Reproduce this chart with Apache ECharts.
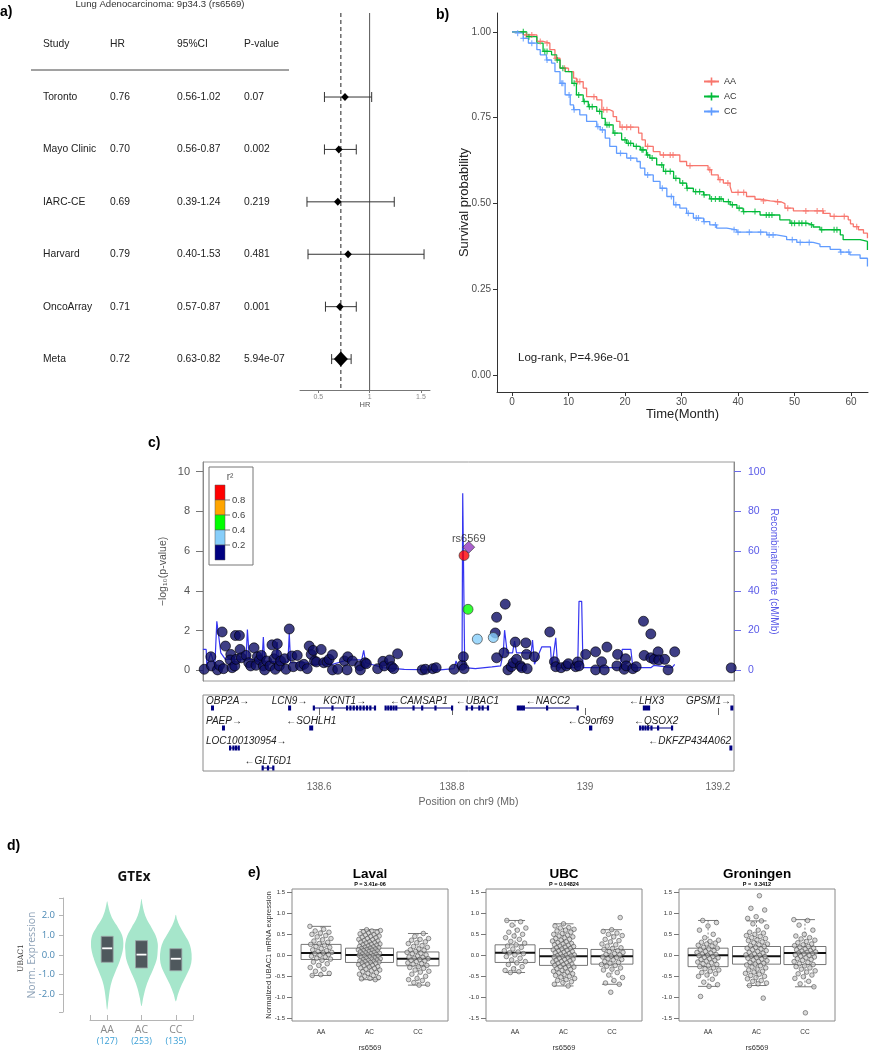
<!DOCTYPE html>
<html>
<head>
<meta charset="utf-8">
<script src="https://cdn.jsdelivr.net/npm/echarts@6.0.0/dist/echarts.min.js"></script>
<style>
html,body{margin:0;padding:0;background:#fff;}
#chart{width:872px;height:1050px;}
</style>
</head>
<body>
<div id="chart"></div>
<script>
// ======================= DATA =======================
// a) forest plot
const forestTitle = 'Lung Adenocarcinoma: 9p34.3 (rs6569)';
const tableHeaders = ['Study', 'HR', '95%CI', 'P-value'];
const studies = ['Toronto', 'Mayo Clinic', 'IARC-CE', 'Harvard', 'OncoArray', 'Meta'];
const hr = [0.76, 0.70, 0.69, 0.79, 0.71, 0.72];
const ciLow = [0.56, 0.56, 0.39, 0.40, 0.57, 0.63];
const ciHigh = [1.02, 0.87, 1.24, 1.53, 0.87, 0.82];
const pvals = ['0.07', '0.002', '0.219', '0.481', '0.001', '5.94e-07'];
const forestTicks = [0.5, 1, 1.5];
const forestRefLines = [1, 0.72];

// b) Kaplan-Meier
const kmNames = ['AA', 'AC', 'CC'];
const aaTime = [0,2.0,4.4,5.5,6.7,7.6,8.5,10.0,10.9,11.4,12.6,13.2,15.0,15.9,17.3,17.9,18.5,19.1,22.4,23.0,23.6,25.0,26.2,29.7,30.9,34.7,35.3,36.5,37.4,38.6,38.9,41.5,43.0,43.9,45.7,47.7,48.3,49.8,55.1,56.3,59.5,59.9,60.4,61.3,62.2,62.9];
const aaSurv = [1,0.991,0.972,0.967,0.948,0.923,0.894,0.884,0.865,0.855,0.836,0.811,0.802,0.773,0.768,0.753,0.739,0.722,0.705,0.685,0.666,0.651,0.641,0.622,0.610,0.598,0.583,0.569,0.559,0.549,0.532,0.520,0.512,0.507,0.504,0.499,0.486,0.478,0.471,0.462,0.452,0.440,0.432,0.423,0.413,0.398];
const acTime = [0,2.6,4.4,5.5,7.0,7.9,8.5,9.4,10.6,11.4,12.6,13.5,15.0,15.9,16.5,17.9,19.4,20.3,21.5,22.7,23.8,24.4,25.6,26.8,28.6,29.7,30.9,32.1,33.9,35.0,37.4,38.6,39.8,40.9,43.9,47.4,49.2,52.2,53.3,54.5,58.1,58.6,61.6,62.9];
const acSurv = [1,0.986,0.967,0.943,0.933,0.918,0.894,0.884,0.850,0.816,0.797,0.782,0.768,0.748,0.729,0.705,0.685,0.675,0.666,0.656,0.641,0.632,0.612,0.593,0.573,0.559,0.544,0.534,0.525,0.513,0.505,0.496,0.486,0.476,0.466,0.452,0.442,0.437,0.431,0.423,0.408,0.394,0.389,0.364];
const ccTime = [0,0.8,2.0,2.9,4.4,5.0,6.1,7.0,7.6,8.5,9.4,10.3,10.9,12.0,13.2,15.0,15.6,16.5,17.3,18.5,20.3,22.1,22.7,23.5,25.0,26.2,27.4,28.6,29.7,30.9,32.1,33.9,35.0,36.2,38.0,39.8,45.1,46.8,48.6,50.4,53.3,54.5,56.3,58.1,59.8,61.6,62.9];
const ccSurv = [1,0.996,0.981,0.967,0.948,0.933,0.918,0.909,0.884,0.850,0.816,0.787,0.773,0.758,0.739,0.724,0.714,0.690,0.666,0.646,0.632,0.622,0.603,0.583,0.564,0.544,0.520,0.496,0.486,0.471,0.457,0.447,0.437,0.428,0.423,0.416,0.408,0.403,0.394,0.386,0.381,0.374,0.366,0.358,0.350,0.340,0.316];
const aaCensor = [2.5,3.5,5,6.2,7.8,9.3,11.6,12,14.5,16.2,16.8,19.5,20.3,21,24,26.8,28,28.5,31.5,35,36.8,38.2,40,41,44.5,47,48.8,52,54,55,57,58.8,61];
const acCensor = [2,3,5.8,6.2,8,9,11,11.8,12.8,13.7,14.2,15.5,16.8,17.2,18.2,20,20.6,21,22,23,23.2,24,24.8,26.5,27.2,28,29,30.2,31,32.5,33.2,34,35.3,36,36.7,37,38.3,39,40.2,41,43,45,45.5,46,49.5,50,50.8,51.3,52,53,54.8,57,57.5];
const ccCensor = [1,2,3.5,6.2,8.8,9,10.1,11,15.2,16,19.2,21,24,26.6,28.2,29,31.2,32.6,33,34,36,39.3,40,42,44,45.5,46.2,49.6,51,52.6,58.2,59.6];
const kmXTicks = [0, 10, 20, 30, 40, 50, 60];
const kmYTicks = [0, 0.25, 0.5, 0.75, 1];
const logrankText = 'Log-rank, P=4.96e-01';

// c) regional association plot
const lowPos = [138.427,138.437,138.438,138.447,138.454,138.450,138.459,138.456,138.467,138.469,138.466,138.474,138.480,138.473,138.481,138.475,138.483,138.490,138.494,138.497,138.502,138.505,138.507,138.510,138.513,138.516,138.518,138.521,138.526,138.529,138.532,138.534,138.537,138.536,138.540,138.542,138.548,138.550,138.555,138.559,138.561,138.567,138.572,138.577,138.582,138.585,138.588,138.591,138.593,138.596,138.603,138.607,138.612,138.615,138.620,138.620,138.628,138.638,138.642,138.643,138.650,138.661,138.662,138.669,138.671,138.688,138.696,138.698,138.706,138.709,138.712,138.718,138.755,138.760,138.771,138.776,138.803,138.815,138.817,138.818,138.867,138.865,138.878,138.880,138.867,138.884,138.889,138.892,138.895,138.897,138.903,138.905,138.911,138.912,138.913,138.924,138.947,138.954,138.956,138.964,138.972,138.975,138.986,138.989,138.991,139.001,139.016,139.016,139.025,139.029,139.033,139.048,139.049,139.059,139.061,139.062,139.072,139.077,139.088,139.089,139.099,139.099,139.104,139.110,139.111,139.120,139.125,139.135,139.220];
const lowLogP = [0.05,0.68,0.22,0.02,1.93,0.25,1.22,0.08,0.80,0.13,0.52,1.75,1.75,0.22,1.05,0.55,0.63,0.75,0.38,0.22,1.13,0.25,0.68,0.52,0.75,0.22,0.02,0.47,0.22,1.28,0.58,0.05,1.33,0.80,0.22,0.47,0.58,0.05,2.08,0.72,0.18,0.75,0.22,0.30,0.08,1.22,0.80,1.00,0.47,0.42,1.05,0.38,0.42,0.55,0.78,0.02,0.05,0.47,0.02,0.68,0.47,0.22,0.02,0.38,0.33,0.08,0.45,0.22,0.52,0.18,0.08,0.83,0.02,0.05,0.08,0.13,0.05,0.25,0.68,0.08,2.67,1.88,0.88,3.33,0.63,0.02,0.18,0.38,1.42,0.55,0.22,0.13,1.38,0.80,0.08,0.68,1.93,0.43,0.18,0.13,0.22,0.33,0.18,0.42,0.22,0.80,0.93,0.02,0.43,0.02,1.17,0.22,0.80,0.05,0.58,0.22,0.08,0.18,2.47,0.75,1.83,0.63,0.55,0.93,0.52,0.55,0.02,0.93,0.12];
const ldPos = [138.818, 138.824, 138.838, 138.862];
const ldLogP = [5.78, 3.07, 1.57, 1.65];
const ldBin = [4, 2, 1, 1];
const indexSnp = 'rs6569';
const indexPos = 138.825;
const indexLogP = 6.20;
const r2Colors = ['#000080', '#87cefa', '#00ff00', '#ffa500', '#ff0000'];
const r2Labels = ['0.2', '0.4', '0.6', '0.8'];
const recombPos = [138.425,138.430,138.431,138.437,138.440,138.443,138.446,138.449,138.452,138.459,138.490,138.492,138.495,138.514,138.516,138.518,138.535,138.537,138.539,138.553,138.555,138.557,138.583,138.588,138.620,138.642,138.664,138.667,138.670,138.696,138.728,138.782,138.803,138.806,138.810,138.815,138.816,138.818,138.819,138.835,138.860,138.873,138.877,138.879,138.883,138.891,138.894,138.897,138.919,138.921,138.924,138.935,138.948,138.950,138.956,138.959,138.989,138.991,138.995,138.997,139.053,139.056,139.069,139.072,139.099,139.104,139.131,139.135];
const recombRate = [10.5,10.5,2.2,8.8,9.7,2.2,24.7,24.7,8.8,5.5,5.5,20.5,5.5,4.7,16.8,4.7,4.2,14.2,4.2,4.2,18.8,3.8,3.8,3.0,3.0,5.2,5.2,10,3.8,1.3,0.5,0.2,0.8,4.7,0.5,2.2,89.2,89.2,1.3,0.8,1.7,2.2,8.8,20.2,8.8,8.8,14.7,8.8,8.8,15.2,3.0,11.8,11.8,1.3,16.3,1.3,1.3,34.7,34.7,1.3,1.3,10.5,10.5,1.3,1.3,2.5,1.3,3.0];
const logpTicks = [0, 2, 4, 6, 8, 10];
const recombTicks = [0, 20, 40, 60, 80, 100];
const posTicks = [138.6, 138.8, 139, 139.2];
const geneNames = ['OBP2A','LCN9','KCNT1','CAMSAP1','UBAC1','NACC2','LHX3','GPSM1','PAEP','SOHLH1','C9orf69','QSOX2','LOC100130954','DKFZP434A062','GLT6D1'];
const geneStrand = [1,1,1,-1,-1,-1,-1,1,1,-1,-1,-1,1,-1,-1];
const geneRow = [0,0,0,0,0,0,0,0,1,1,1,1,2,2,3];
const geneStart = [138.438,138.554,138.592,138.700,138.822,138.899,139.087,139.220,138.454,138.585,139.006,139.083,138.466,139.218,138.515];
const geneEnd = [138.441,138.557,138.685,138.800,138.854,138.989,139.098,139.222,138.458,138.591,139.011,139.131,138.479,139.221,138.531];
const geneExons = [[],[],[138.592,138.620,138.642,138.647,138.652,138.657,138.662,138.667,138.672,138.677,138.684],[138.700,138.704,138.708,138.712,138.716,138.742,138.755,138.775,138.800],[138.822,138.830,138.841,138.846,138.854],[138.899,138.902,138.905,138.908,138.943,138.989],[],[],[],[],[],[139.083,139.087,139.091,139.095,139.100,139.110,139.131],[138.466,138.471,138.475,138.479],[],[138.515,138.523,138.531]];

// d) GTEx violin
const gtexTitle = 'GTEx';
const gtexGeno = ['AA', 'AC', 'CC'];
const gtexN = [127, 253, 135];
const gtexMedian = [0.34, 0.02, -0.19];
const gtexQ1 = [-0.37, -0.66, -0.80];
const gtexQ3 = [0.95, 0.73, 0.32];
const gtexTicks = [-2, -1, 0, 1, 2];
const violinAA = [[2.73,0],[2.5,0.06],[2.2,0.14],[1.8,0.32],[1.4,0.6],[1.0,0.83],[0.6,0.9],[0.2,0.86],[-0.3,0.7],[-0.8,0.48],[-1.3,0.27],[-1.8,0.14],[-2.3,0.07],[-2.78,0]];
const violinAC = [[2.86,0],[2.6,0.05],[2.2,0.14],[1.8,0.3],[1.4,0.55],[1.0,0.78],[0.6,0.9],[0.25,0.9],[-0.2,0.85],[-0.7,0.66],[-1.2,0.42],[-1.7,0.22],[-2.2,0.09],[-2.6,0]];
const violinCC = [[2.05,0],[1.8,0.07],[1.5,0.2],[1.1,0.45],[0.7,0.7],[0.3,0.84],[-0.2,0.88],[-0.6,0.8],[-1.0,0.6],[-1.5,0.33],[-2.0,0.12],[-2.36,0]];

// e) eQTL boxplots
const cohorts = ['Laval', 'UBC', 'Groningen'];
const cohortP = ['P = 3.41e-06', 'P = 0.04824', 'P =  0.3412'];
const boxGeno = ['AA', 'AC', 'CC'];
const boxTicks = [-1.5, -1, -0.5, 0, 0.5, 1, 1.5];
const boxYName = 'Normalized UBAC1 mRNA expression';
// [min, q1, median, q3, max]
const lavalStats = [[-0.48,-0.10,0.055,0.26,0.69],[-0.58,-0.17,0.01,0.17,0.61],[-0.71,-0.25,-0.08,0.08,0.52]];
const ubcStats = [[-0.41,-0.17,0.06,0.25,0.83],[-0.73,-0.24,-0.02,0.16,0.75],[-0.69,-0.21,-0.02,0.14,0.61]];
const groStats = [[-0.74,-0.27,0.0,0.17,0.83],[-0.72,-0.21,-0.02,0.21,0.82],[-0.75,-0.22,0.055,0.21,0.85]];
const lavalAA = [0.69,0.62,0.58,0.55,0.53,0.5,0.47,0.44,0.4,0.37,0.34,0.31,0.28,0.26,0.24,0.21,0.19,0.16,0.13,0.11,0.09,0.07,0.055,0.04,0.02,0,-0.02,-0.04,-0.07,-0.09,-0.12,-0.16,-0.2,-0.24,-0.29,-0.33,-0.38,-0.43,-0.46,-0.48];
const lavalAC = [0.61,0.59,0.58,0.56,0.55,0.53,0.51,0.49,0.48,0.46,0.45,0.43,0.42,0.4,0.38,0.37,0.35,0.34,0.32,0.31,0.3,0.29,0.27,0.26,0.25,0.24,0.22,0.21,0.2,0.19,0.18,0.17,0.16,0.15,0.14,0.13,0.12,0.11,0.1,0.09,0.08,0.07,0.06,0.05,0.04,0.03,0.02,0.01,0,-0.01,-0.02,-0.03,-0.04,-0.05,-0.06,-0.07,-0.08,-0.09,-0.1,-0.11,-0.12,-0.13,-0.14,-0.15,-0.16,-0.17,-0.18,-0.19,-0.21,-0.22,-0.24,-0.25,-0.27,-0.28,-0.3,-0.31,-0.33,-0.35,-0.37,-0.39,-0.41,-0.43,-0.45,-0.48,-0.5,-0.53,-0.55,-0.56,-0.58];
const lavalCC = [0.52,0.45,0.4,0.38,0.36,0.32,0.3,0.28,0.23,0.21,0.19,0.15,0.13,0.12,0.09,0.07,0.05,0.04,0.01,-0.02,-0.04,-0.05,-0.07,-0.08,-0.1,-0.12,-0.13,-0.15,-0.18,-0.2,-0.21,-0.24,-0.27,-0.29,-0.31,-0.35,-0.38,-0.4,-0.45,-0.5,-0.55,-0.58,-0.6,-0.65,-0.69,-0.71];
const ubcAA = [0.83,0.8,0.72,0.65,0.6,0.55,0.5,0.46,0.42,0.38,0.33,0.29,0.25,0.22,0.19,0.15,0.11,0.08,0.06,0.04,0.01,-0.03,-0.07,-0.11,-0.15,-0.18,-0.22,-0.27,-0.32,-0.36,-0.39,-0.41];
const ubcAC = [0.75,0.7,0.66,0.65,0.62,0.6,0.58,0.55,0.52,0.5,0.48,0.46,0.44,0.42,0.4,0.38,0.36,0.34,0.32,0.3,0.28,0.27,0.25,0.24,0.22,0.21,0.19,0.18,0.16,0.15,0.13,0.12,0.1,0.09,0.07,0.06,0.04,0.03,0.01,0,-0.01,-0.02,-0.03,-0.04,-0.06,-0.07,-0.09,-0.1,-0.12,-0.13,-0.15,-0.16,-0.18,-0.19,-0.21,-0.22,-0.24,-0.25,-0.27,-0.28,-0.3,-0.32,-0.34,-0.36,-0.38,-0.4,-0.42,-0.44,-0.46,-0.48,-0.5,-0.52,-0.55,-0.58,-0.6,-0.63,-0.65,-0.69,-0.73];
const ubcCC = [0.9,0.61,0.57,0.53,0.5,0.47,0.44,0.38,0.35,0.32,0.27,0.25,0.22,0.18,0.16,0.14,0.11,0.09,0.07,0.04,0.02,0.01,-0.02,-0.04,-0.05,-0.08,-0.1,-0.11,-0.15,-0.17,-0.19,-0.22,-0.24,-0.26,-0.3,-0.33,-0.35,-0.41,-0.47,-0.53,-0.6,-0.66,-0.69,-0.88];
const groAA = [0.83,0.78,0.7,0.6,0.5,0.42,0.36,0.33,0.31,0.29,0.27,0.24,0.22,0.19,0.17,0.15,0.13,0.11,0.09,0.07,0.05,0.03,0.02,0,-0.01,-0.03,-0.05,-0.06,-0.08,-0.1,-0.12,-0.14,-0.16,-0.18,-0.2,-0.22,-0.25,-0.27,-0.3,-0.32,-0.35,-0.38,-0.41,-0.44,-0.47,-0.5,-0.57,-0.64,-0.7,-0.74,-0.98];
const groAC = [1.42,1.12,1.08,0.92,0.88,0.82,0.75,0.68,0.6,0.55,0.53,0.5,0.47,0.45,0.42,0.4,0.37,0.35,0.32,0.3,0.27,0.25,0.23,0.21,0.19,0.17,0.15,0.13,0.11,0.09,0.07,0.05,0.03,0.01,0,-0.02,-0.03,-0.05,-0.07,-0.09,-0.11,-0.13,-0.15,-0.17,-0.19,-0.21,-0.23,-0.25,-0.28,-0.3,-0.33,-0.35,-0.38,-0.4,-0.43,-0.45,-0.48,-0.5,-0.53,-0.56,-0.6,-0.62,-0.66,-0.68,-0.72,-1.02];
const groCC = [0.85,0.83,0.72,0.6,0.5,0.46,0.42,0.39,0.36,0.33,0.3,0.27,0.25,0.23,0.21,0.19,0.17,0.15,0.13,0.11,0.1,0.08,0.07,0.055,0.04,0.03,0.01,0,-0.02,-0.04,-0.06,-0.08,-0.1,-0.12,-0.15,-0.17,-0.2,-0.22,-0.25,-0.27,-0.3,-0.33,-0.37,-0.4,-0.44,-0.47,-0.51,-0.55,-0.62,-0.68,-0.75,-1.37];

// ======================= LAYOUT / STYLE =======================
const FONT = '"Liberation Sans", Arial, sans-serif';
const PLUS = 'path://M4,0H6V4H10V6H6V10H4V6H0V4H4Z';
const kmColors = ['#F8766D', '#00BA38', '#619CFF'];
const NAVY = '#000080';
const measureCtx = document.createElement('canvas').getContext('2d');
function textWidth(t, font) { measureCtx.font = font; return measureCtx.measureText(t).width; }
function survAt(times, surv, t) { let s = surv[0]; for (let i = 0; i < times.length; i++) { if (times[i] <= t) s = surv[i]; } return s; }

const rowMin = -1.603, rowMax = 5.59;
const LOC_MIN = 138.4252, LOC_MAX = 139.2242;
const boxGrids = [
  { left: 292, top: 889, width: 156, height: 132 },
  { left: 486, top: 889, width: 156, height: 132 },
  { left: 679, top: 889, width: 156, height: 132 }
];
const boxHalf = [20, 24, 21];
const gridBase = { outerBoundsMode: 'none', containLabel: false };
const grid = [
  { left: 0, top: 13, width: 300, height: 377 },
  { left: 300, top: 13, width: 130, height: 377 },
  { left: 497, top: 13, width: 371, height: 379 },
  { left: 203, top: 462, width: 531, height: 219, show: true, borderColor: '#9a9a9a', borderWidth: 1, backgroundColor: 'transparent' },
  { left: 203, top: 695, width: 531, height: 76, show: true, borderColor: '#8a8a8a', borderWidth: 1, backgroundColor: 'transparent' },
  { left: 90, top: 898, width: 103, height: 114 }
].concat(boxGrids.map(g => Object.assign({ show: true, borderColor: '#8a8a8a', borderWidth: 1, backgroundColor: 'transparent' }, g)))
 .map(g => Object.assign({}, gridBase, g));

function boxX(gi) {
  return { gridIndex: gi, type: 'value', min: 0.4, max: 3.62,
    axisLine: { show: false },
    axisTick: { show: true, customValues: [1, 2, 3], length: 3, lineStyle: { color: '#777' } },
    axisLabel: { customValues: [1, 2, 3], fontSize: 6.5, color: '#333', margin: 8, formatter: v => boxGeno[Math.round(v) - 1] },
    splitLine: { show: false }, nameMoveOverlap: false,
    name: indexSnp, nameLocation: 'middle', nameGap: 23, nameTextStyle: { fontSize: 7.5, color: '#333' } };
}
function boxY(gi, withName) {
  return { gridIndex: gi, type: 'value', min: -1.565, max: 1.58,
    axisLine: { show: false },
    axisTick: { show: true, customValues: boxTicks, length: 5, lineStyle: { color: '#777' } },
    axisLabel: { customValues: boxTicks, formatter: v => v.toFixed(1), fontSize: 6, color: '#333', margin: 7 },
    splitLine: { show: false }, nameMoveOverlap: false,
    name: withName ? boxYName : '', nameLocation: 'middle', nameGap: 19.5, nameRotate: 90, nameTextStyle: { fontSize: 7.5, color: '#333' } };
}

const xAxis = [
  { gridIndex: 0, type: 'value', min: 0, max: 300, show: false },
  { gridIndex: 1, type: 'value', min: 0.322, max: 1.588,
    axisLine: { show: true, onZero: false, lineStyle: { color: '#777', width: 1 } },
    axisTick: { show: true, customValues: forestTicks, length: 3, lineStyle: { color: '#777' } },
    axisLabel: { customValues: forestTicks, fontSize: 7, color: '#888', margin: 4 },
    splitLine: { show: false }, nameMoveOverlap: false,
    name: 'HR', nameLocation: 'middle', nameGap: 11, nameTextStyle: { fontSize: 7.5, color: '#555' } },
  { gridIndex: 2, type: 'value', min: -2.655, max: 63,
    axisLine: { show: true, onZero: false, lineStyle: { color: '#333', width: 1 } },
    axisTick: { show: true, customValues: kmXTicks, length: 4, lineStyle: { color: '#333' } },
    axisLabel: { customValues: kmXTicks, fontSize: 10, color: '#4d4d4d', margin: 5 },
    splitLine: { show: false }, nameMoveOverlap: false,
    name: 'Time(Month)', nameLocation: 'middle', nameGap: 16, nameTextStyle: { fontSize: 13, color: '#222' } },
  { gridIndex: 3, type: 'value', min: LOC_MIN, max: LOC_MAX, show: false },
  { gridIndex: 4, type: 'value', min: LOC_MIN, max: LOC_MAX,
    axisLine: { show: false },
    axisTick: { show: true, customValues: posTicks, length: 7, lineStyle: { color: '#666' } },
    axisLabel: { customValues: posTicks, fontSize: 10, color: '#666', margin: 11 },
    splitLine: { show: false }, nameMoveOverlap: false,
    name: 'Position on chr9 (Mb)', nameLocation: 'middle', nameGap: 26, nameTextStyle: { fontSize: 10.5, color: '#666' } },
  { gridIndex: 5, type: 'value', min: 0.5, max: 3.5, offset: 8,
    axisLine: { show: true, onZero: false, lineStyle: { color: '#b5b5b5' } },
    axisTick: { show: true, inside: true, customValues: [0.5, 1, 2, 3, 3.5], length: 5, lineStyle: { color: '#b5b5b5' } },
    axisLabel: { customValues: [1, 2, 3], margin: 4,
      formatter: v => '{g|' + gtexGeno[Math.round(v) - 1] + '}\n{n|(' + gtexN[Math.round(v) - 1] + ')}',
      rich: { g: { fontSize: 10.5, color: '#8a8a8a', lineHeight: 12, fontFamily: '"Open Sans", sans-serif' }, n: { fontSize: 9, color: '#3a9fd6', lineHeight: 10, fontFamily: '"Open Sans", sans-serif' } } },
    splitLine: { show: false } },
  boxX(6), boxX(7), boxX(8)
];

const yAxis = [
  { gridIndex: 0, type: 'value', inverse: true, min: rowMin, max: rowMax, show: false },
  { gridIndex: 1, type: 'value', inverse: true, min: rowMin, max: rowMax, show: false },
  { gridIndex: 2, type: 'value', min: -0.05, max: 1.055,
    axisLine: { show: true, onZero: false, lineStyle: { color: '#333' } },
    axisTick: { show: true, customValues: kmYTicks, length: 4, lineStyle: { color: '#333' } },
    axisLabel: { customValues: kmYTicks, formatter: v => v.toFixed(2), fontSize: 10, color: '#4d4d4d', margin: 6 },
    splitLine: { show: false }, nameMoveOverlap: false,
    name: 'Survival probability', nameLocation: 'middle', nameGap: 26, nameRotate: 90, nameTextStyle: { fontSize: 13, color: '#222' } },
  { gridIndex: 3, type: 'value', min: -0.54, max: 10.49, position: 'left',
    axisLine: { show: true, onZero: false, lineStyle: { color: '#8a8a8a' } },
    axisTick: { show: true, customValues: logpTicks, length: 7, lineStyle: { color: '#777' } },
    axisLabel: { customValues: logpTicks, fontSize: 11, color: '#555', margin: 13 },
    splitLine: { show: false }, nameMoveOverlap: false,
    name: '\u2212log\u2081\u2080(p-value)', nameLocation: 'middle', nameGap: 34, nameRotate: 90, nameTextStyle: { fontSize: 10.5, color: '#555' } },
  { gridIndex: 3, type: 'value', min: -5.4, max: 104.9, position: 'right',
    axisLine: { show: true, onZero: false, lineStyle: { color: '#8a8a8a' } },
    axisTick: { show: true, customValues: recombTicks, length: 7, lineStyle: { color: '#6a6ae8' } },
    axisLabel: { customValues: recombTicks, fontSize: 10.5, color: '#5a5ae8', margin: 14 },
    splitLine: { show: false }, nameMoveOverlap: false,
    name: 'Recombination rate (cM/Mb)', nameLocation: 'middle', nameGap: 35, nameRotate: -90, nameTextStyle: { fontSize: 10, color: '#5a5ae8' } },
  { gridIndex: 4, type: 'value', inverse: true, min: -0.65, max: 3.15, show: false },
  { gridIndex: 5, type: 'value', min: -2.9, max: 2.9, offset: 27,
    axisLine: { show: true, onZero: false, lineStyle: { color: '#b5b5b5' } },
    axisTick: { show: true, customValues: [-2.9, -2, -1, 0, 1, 2, 2.9], length: 4, lineStyle: { color: '#b5b5b5' } },
    axisLabel: { customValues: gtexTicks, formatter: v => v.toFixed(1), fontSize: 9.5, color: '#4a88b4', margin: 8, fontFamily: '"Open Sans", sans-serif' },
    splitLine: { show: false }, nameMoveOverlap: false,
    name: 'Norm. Expression', nameLocation: 'middle', nameGap: 25, nameRotate: 90, nameTextStyle: { fontSize: 10.5, color: '#8fa3b8', fontFamily: '"Open Sans", sans-serif' } },
  boxY(6, true), boxY(7, false), boxY(8, false)
];

// ======================= SERIES =======================
const series = [];

// a) table text
const colX = [43, 110, 177, 244];
const tableCells = [];
tableHeaders.forEach((h, k) => tableCells.push({ x: colX[k], row: -1, text: h }));
studies.forEach((s, i) => {
  [s, hr[i].toFixed(2), ciLow[i].toFixed(2) + '-' + ciHigh[i].toFixed(2), pvals[i]]
    .forEach((t, k) => tableCells.push({ x: colX[k], row: i, text: t }));
});
series.push({ type: 'custom', xAxisIndex: 0, yAxisIndex: 0, silent: true,
  data: tableCells.map(c => [c.x, c.row]),
  renderItem: (params, api) => {
    const c = tableCells[params.dataIndex];
    const p = api.coord([api.value(0), api.value(1)]);
    return { type: 'text', x: p[0], y: p[1], style: { text: c.text, fontSize: 10.3, fontFamily: FONT, fill: '#222', align: 'left', verticalAlign: 'middle' } };
  } });

// a) reference lines
series.push({ type: 'custom', xAxisIndex: 1, yAxisIndex: 1, silent: true, z: 1,
  data: forestRefLines.map((v, i) => [v, i]),
  renderItem: (params, api) => {
    const x = api.coord([api.value(0), 0])[0];
    const cs = params.coordSys;
    const dashed = params.dataIndex === 1;
    return { type: 'line', shape: { x1: x, y1: cs.y, x2: x, y2: cs.y + cs.height },
      style: { stroke: dashed ? '#222' : '#555', lineWidth: 1, lineDash: dashed ? [4, 3] : null } };
  } });
// a) forest marks
series.push({ type: 'custom', xAxisIndex: 1, yAxisIndex: 1, silent: true, z: 3,
  data: studies.map((s, i) => [hr[i], i, ciLow[i], ciHigh[i]]),
  renderItem: (params, api) => {
    const row = api.value(1);
    const p1 = api.coord([api.value(2), row]), p2 = api.coord([api.value(3), row]), pc = api.coord([api.value(0), row]);
    const meta = params.dataIndex === studies.length - 1;
    const hw = meta ? 7 : 3.8, hh = meta ? 7.5 : 4;
    const st = { stroke: '#333', lineWidth: 1 };
    return { type: 'group', children: [
      { type: 'line', shape: { x1: p1[0], y1: p1[1], x2: p2[0], y2: p2[1] }, style: st },
      { type: 'line', shape: { x1: p1[0], y1: p1[1] - 5, x2: p1[0], y2: p1[1] + 5 }, style: st },
      { type: 'line', shape: { x1: p2[0], y1: p2[1] - 5, x2: p2[0], y2: p2[1] + 5 }, style: st },
      { type: 'polygon', shape: { points: [[pc[0] - hw, pc[1]], [pc[0], pc[1] - hh], [pc[0] + hw, pc[1]], [pc[0], pc[1] + hh]] }, style: { fill: '#000' } }
    ] };
  } });

// b) KM curves
const kmGroups = [
  { t: aaTime, s: aaSurv, c: aaCensor },
  { t: acTime, s: acSurv, c: acCensor },
  { t: ccTime, s: ccSurv, c: ccCensor }
];
kmGroups.forEach((g, k) => {
  series.push({ type: 'line', name: kmNames[k], xAxisIndex: 2, yAxisIndex: 2, step: 'end',
    data: g.t.map((t, i) => [t, g.s[i]]), symbol: PLUS, symbolSize: 7, showSymbol: false,
    lineStyle: { color: kmColors[k], width: 1.3 }, itemStyle: { color: kmColors[k] }, z: 3, silent: true });
});
kmGroups.forEach((g, k) => {
  series.push({ type: 'scatter', xAxisIndex: 2, yAxisIndex: 2, silent: true,
    data: g.c.map(t => [t, survAt(g.t, g.s, t)]), symbol: PLUS, symbolSize: 6,
    itemStyle: { color: kmColors[k] }, z: 4 });
});

// c) recombination line
series.push({ type: 'line', xAxisIndex: 3, yAxisIndex: 4, silent: true, z: 2,
  data: recombPos.map((p, i) => [p, recombRate[i]]), symbol: 'none',
  lineStyle: { color: '#3535f0', width: 1.2 } });
// c) low-LD SNPs
series.push({ type: 'scatter', xAxisIndex: 3, yAxisIndex: 3, silent: true, z: 3,
  data: lowPos.map((p, i) => [p, lowLogP[i]]), symbolSize: 10,
  itemStyle: { color: '#0e0e66', borderColor: '#000', borderWidth: 0.8 } });
// c) LD SNPs
series.push({ type: 'scatter', xAxisIndex: 3, yAxisIndex: 3, silent: true, z: 4,
  data: ldPos.map((p, i) => ({ value: [p, ldLogP[i]], itemStyle: { color: r2Colors[ldBin[i]] } })), symbolSize: 10,
  itemStyle: { borderColor: '#333', borderWidth: 0.8 } });
// c) index SNP
series.push({ type: 'scatter', xAxisIndex: 3, yAxisIndex: 3, silent: true, z: 5,
  data: [{ value: [indexPos, indexLogP], name: indexSnp }], symbol: 'diamond', symbolSize: 12,
  itemStyle: { color: '#9437c0', borderColor: '#333', borderWidth: 0.8 },
  label: { show: true, position: 'top', distance: 0, offset: [0, 4], formatter: p => p.name, fontSize: 11, color: '#222', fontFamily: FONT } });

// c) genes
series.push({ type: 'custom', xAxisIndex: 4, yAxisIndex: 5, silent: true, z: 3,
  data: geneNames.map((n, i) => [geneStart[i], geneRow[i]]),
  renderItem: (params, api) => {
    const i = params.dataIndex;
    const row = geneRow[i];
    const a = api.coord([geneStart[i], row]), b = api.coord([geneEnd[i], row]);
    const y = a[1];
    const children = [];
    const ex = geneExons[i];
    if (ex.length) {
      children.push({ type: 'line', shape: { x1: a[0], y1: y, x2: b[0], y2: y }, style: { stroke: NAVY, lineWidth: 1 } });
      ex.forEach(e => { const p = api.coord([e, row]); children.push({ type: 'rect', shape: { x: p[0] - 1.1, y: y - 2.5, width: 2.2, height: 5 }, style: { fill: NAVY } }); });
    } else {
      const w = Math.max(3, b[0] - a[0]);
      children.push({ type: 'rect', shape: { x: (a[0] + b[0]) / 2 - w / 2, y: y - 2.5, width: w, height: 5 }, style: { fill: NAVY } });
    }
    const label = geneStrand[i] > 0 ? geneNames[i] + '\u2192' : '\u2190' + geneNames[i];
    const font = 'italic 10px ' + FONT;
    const tw = textWidth(label, font);
    const cs = params.coordSys;
    let cx = (a[0] + b[0]) / 2;
    cx = Math.max(cs.x + tw / 2 + 3, Math.min(cs.x + cs.width - tw / 2 - 3, cx));
    children.push({ type: 'text', x: cx, y: y - 6.5, style: { text: label, font: font, fill: '#222', align: 'center', verticalAlign: 'middle' } });
    return { type: 'group', children };
  } });

// d) violins
const violinProfiles = [violinAA, violinAC, violinCC];
series.push({ type: 'custom', xAxisIndex: 5, yAxisIndex: 6, silent: true, z: 3,
  data: gtexGeno.map((g, i) => [i + 1, gtexMedian[i]]),
  renderItem: (params, api) => {
    const i = params.dataIndex;
    const prof = violinProfiles[i];
    const xv = i + 1;
    const cx = api.coord([xv, 0])[0];
    const halfMax = 18;
    const right = prof.map(([v, w]) => [cx + w * halfMax, api.coord([xv, v])[1]]);
    const left = prof.slice(1, -1).reverse().map(([v, w]) => [cx - w * halfMax, api.coord([xv, v])[1]]);
    const q1 = api.coord([xv, gtexQ1[i]])[1], q3 = api.coord([xv, gtexQ3[i]])[1], md = api.coord([xv, gtexMedian[i]])[1];
    return { type: 'group', children: [
      { type: 'polygon', shape: { points: right.concat(left), smooth: 0.35 }, style: { fill: '#a6e6cb' } },
      { type: 'rect', shape: { x: cx - 6, y: q3, width: 12, height: q1 - q3 }, style: { fill: '#4f585d', stroke: '#9aa2a6', lineWidth: 0.8 } },
      { type: 'line', shape: { x1: cx - 5, y1: md, x2: cx + 5, y2: md }, style: { stroke: '#fff', lineWidth: 1.8 } }
    ] };
  } });

// e) boxplots
const cohortStats = [lavalStats, ubcStats, groStats];
const cohortPoints = [[lavalAA, lavalAC, lavalCC], [ubcAA, ubcAC, ubcCC], [groAA, groAC, groCC]];
cohortStats.forEach((stats, c) => {
  series.push({ type: 'custom', xAxisIndex: 6 + c, yAxisIndex: 7 + c, silent: true, z: 2,
    data: stats.map((s, i) => [i + 1].concat(s)),
    renderItem: (params, api) => {
      const xv = api.value(0);
      const mn = api.value(1), q1 = api.value(2), md = api.value(3), q3 = api.value(4), mx = api.value(5);
      const cx = api.coord([xv, md])[0];
      const Y = v => api.coord([xv, v])[1];
      const half = boxHalf[params.dataIndex], cap = 10;
      const dash = { stroke: '#666', lineWidth: 0.8, lineDash: [2, 2] };
      const solid = { stroke: '#555', lineWidth: 0.8 };
      return { type: 'group', children: [
        { type: 'line', shape: { x1: cx, y1: Y(mx), x2: cx, y2: Y(q3) }, style: dash },
        { type: 'line', shape: { x1: cx, y1: Y(q1), x2: cx, y2: Y(mn) }, style: dash },
        { type: 'line', shape: { x1: cx - cap, y1: Y(mx), x2: cx + cap, y2: Y(mx) }, style: solid },
        { type: 'line', shape: { x1: cx - cap, y1: Y(mn), x2: cx + cap, y2: Y(mn) }, style: solid },
        { type: 'rect', shape: { x: cx - half, y: Y(q3), width: 2 * half, height: Y(q1) - Y(q3) }, style: { fill: '#fff', stroke: '#666', lineWidth: 0.9 } },
        { type: 'line', shape: { x1: cx - half, y1: Y(md), x2: cx + half, y2: Y(md) }, style: { stroke: '#111', lineWidth: 2 } }
      ] };
    } });
  const pts = [];
  cohortPoints[c].forEach((vals, g) => vals.forEach((v, i) => {
    const f = ((i * 0.6180339 + 0.37 * g + 0.13 * c) % 1) - 0.5;
    pts.push([g + 1 + f * 0.46, v]);
  }));
  series.push({ type: 'scatter', xAxisIndex: 6 + c, yAxisIndex: 7 + c, silent: true, z: 4,
    data: pts, symbolSize: 4.6,
    itemStyle: { color: 'rgba(200,200,200,0.85)', borderColor: '#444', borderWidth: 0.7 } });
});

// ======================= GRAPHIC =======================
const graphic = [
  { type: 'text', x: 0, y: 12, style: { text: 'a)', font: 'bold 14px ' + FONT, fill: '#000', verticalAlign: 'middle' } },
  { type: 'text', x: 160, y: 4, style: { text: forestTitle, fontSize: 9.6, fontFamily: FONT, fill: '#333', align: 'center', verticalAlign: 'middle' } },
  { type: 'line', shape: { x1: 31, y1: 70, x2: 289, y2: 70 }, style: { stroke: '#444', lineWidth: 1 } },
  { type: 'text', x: 436, y: 15, style: { text: 'b)', font: 'bold 14px ' + FONT, fill: '#000', verticalAlign: 'middle' } },
  { type: 'text', x: 518, y: 358, style: { text: logrankText, fontSize: 11.5, fontFamily: FONT, fill: '#222', verticalAlign: 'middle' } },
  { type: 'text', x: 148, y: 443, style: { text: 'c)', font: 'bold 14px ' + FONT, fill: '#000', verticalAlign: 'middle' } },
  { type: 'text', x: 7, y: 846, style: { text: 'd)', font: 'bold 14px ' + FONT, fill: '#000', verticalAlign: 'middle' } },
  { type: 'text', x: 134, y: 877, style: { text: gtexTitle, font: 'bold 13.5px "Open Sans", sans-serif', fill: '#111', align: 'center', verticalAlign: 'middle' } },
  { type: 'text', x: 21, y: 958, rotation: Math.PI / 2, style: { text: 'UBAC1', font: '7.5px "DejaVu Serif", serif', fill: '#333', align: 'center', verticalAlign: 'middle' } },
  { type: 'text', x: 248, y: 873, style: { text: 'e)', font: 'bold 14px ' + FONT, fill: '#000', verticalAlign: 'middle' } }
];
// r^2 legend in locus plot
const lg = { x: 209, y: 467, w: 44, h: 98, barX: 215, barY: 485, barW: 10, segH: 15 };
graphic.push({ type: 'rect', z: 100, shape: { x: lg.x, y: lg.y, width: lg.w, height: lg.h }, style: { fill: '#fff', stroke: '#777', lineWidth: 1 } });
graphic.push({ type: 'text', z: 101, x: lg.barX + 15, y: 477, style: { text: 'r\u00b2', fontSize: 10, fontFamily: FONT, fill: '#555', align: 'center', verticalAlign: 'middle' } });
r2Colors.slice().reverse().forEach((col, k) => {
  graphic.push({ type: 'rect', z: 101, shape: { x: lg.barX, y: lg.barY + k * lg.segH, width: lg.barW, height: lg.segH }, style: { fill: col, stroke: '#555', lineWidth: 0.5 } });
});
r2Labels.slice().reverse().forEach((t, k) => {
  const yy = lg.barY + (k + 1) * lg.segH;
  graphic.push({ type: 'line', z: 101, shape: { x1: lg.barX + lg.barW, y1: yy, x2: lg.barX + lg.barW + 5, y2: yy }, style: { stroke: '#555', lineWidth: 0.8 } });
  graphic.push({ type: 'text', z: 101, x: lg.barX + lg.barW + 7, y: yy, style: { text: t, fontSize: 9.5, fontFamily: FONT, fill: '#444', verticalAlign: 'middle' } });
});
// boxplot titles
boxGrids.forEach((g, c) => {
  const cx = g.left + g.width / 2;
  graphic.push({ type: 'text', x: cx, y: 874, style: { text: cohorts[c], font: 'bold 13.5px ' + FONT, fill: '#000', align: 'center', verticalAlign: 'middle' } });
  graphic.push({ type: 'text', x: cx, y: 884.5, style: { text: cohortP[c], font: 'bold 5.5px ' + FONT, fill: '#000', align: 'center', verticalAlign: 'middle' } });
});

// ======================= CHART =======================
const chart = echarts.init(document.getElementById('chart'), null, { renderer: 'canvas', width: 872, height: 1050 });
chart.setOption({
  animation: false,
  backgroundColor: '#fff',
  textStyle: { fontFamily: FONT },
  grid, xAxis, yAxis, series, graphic,
  legend: { data: kmNames, orient: 'vertical', left: 698, top: 72, itemWidth: 15, itemHeight: 10, itemGap: 6,
    selectedMode: false, textStyle: { fontSize: 9, color: '#333' } }
});
</script>
</body>
</html>
